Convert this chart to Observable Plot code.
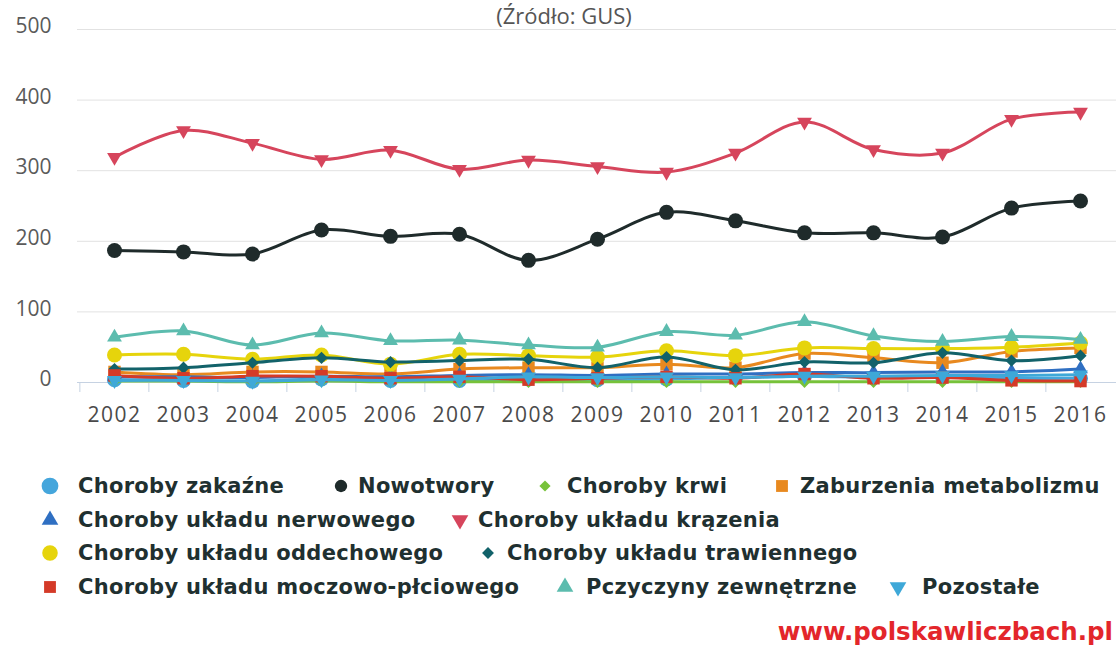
<!DOCTYPE html>
<html>
<head>
<meta charset="utf-8">
<script src="https://cdn.jsdelivr.net/npm/d3@7"></script>
<script src="https://cdn.jsdelivr.net/npm/@observablehq/plot@0.6"></script>
<style>
  body { margin: 0; background: #fff; }
  #wrap { position: relative; width: 1116px; height: 645px; overflow: hidden; background: #fff; }
  #sub { position: absolute; left: 0; top: 1px; width: 1128px; text-align: center;
         font: 22px "Open Sans", sans-serif; color: #555; line-height: 28px; }
  #chart { position: absolute; left: 0; top: 0; }
  #chart g[aria-label="x-axis tick label"] text { letter-spacing: 1.5px; }
  .lg-sym { position: absolute; width: 22px; height: 22px; }
  .lg-txt { position: absolute; font: bold 21px "DejaVu Sans", sans-serif; color: #1f3030;
            letter-spacing: 0.3px; line-height: 26px; white-space: nowrap; }
  #src { position: absolute; right: 3px; top: 617px; font: bold 24.5px "DejaVu Sans", sans-serif;
         color: #e3262b; line-height: 30px; white-space: nowrap; }
</style>
</head>
<body>
<div id="wrap">
  <div id="chart"></div>
  <div id="sub">(Źródło: GUS)</div>
  <div id="legend"></div>
  <div id="src">www.polskawliczbach.pl</div>
</div>
<script>
// ---------- data ----------
const years = [2002, 2003, 2004, 2005, 2006, 2007, 2008, 2009, 2010, 2011, 2012, 2013, 2014, 2015, 2016];
const yTicks = [0, 100, 200, 300, 400, 500];

const seriesNames = [
  "Choroby zakaźne", "Nowotwory", "Choroby krwi", "Zaburzenia metabolizmu",
  "Choroby układu nerwowego", "Choroby układu krązenia",
  "Choroby układu oddechowego", "Choroby układu trawiennego",
  "Choroby układu moczowo-płciowego", "Pczyczyny zewnętrzne", "Pozostałe"
];

const zakazne      = [4, 3, 2, 5, 3, 3, 5, 4, 5, 7, 9, 7, 8, 6, 6];
const nowotwory    = [187, 185, 182, 216, 207, 210, 173, 203, 241, 229, 212, 212, 206, 247, 257];
const krwi         = [2, 2, 1, 2, 1, 1, 1, 1, 1, 1, 1, 1, 1, 1, 1];
const metabolizm   = [15, 11, 15, 15, 12, 19, 21, 21, 26, 21, 41, 35, 28, 44, 49];
const nerwowy      = [8, 8, 7, 9, 8, 10, 11, 10, 12, 12, 14, 14, 15, 15, 19];
const krazenie     = [319, 357, 339, 316, 329, 302, 315, 306, 298, 325, 369, 330, 325, 373, 383];
const oddechowy    = [39, 40, 33, 39, 26, 40, 38, 36, 45, 38, 49, 48, 48, 50, 56];
const trawienny    = [19, 21, 28, 35, 29, 31, 33, 21, 36, 18, 29, 28, 42, 31, 38];
const moczowy      = [10, 6, 9, 9, 6, 8, 4, 6, 8, 6, 12, 6, 7, 3, 2];
const zewnetrzne   = [64, 73, 53, 70, 59, 60, 53, 50, 72, 67, 86, 66, 58, 65, 61];
const pozostale    = [3, 3, 2, 4, 3, 5, 8, 7, 8, 7, 9, 9, 10, 10, 11];

const seriesValues = [zakazne, nowotwory, krwi, metabolizm, nerwowy, krazenie,
                      oddechowy, trawienny, moczowy, zewnetrzne, pozostale];

const seriesColors = ["#45a6dc", "#1f2b2b", "#77c23a", "#e8891f", "#2f6fc2", "#d6455c",
                      "#e6d40c", "#12626a", "#d43a28", "#5cbcae", "#3ea8d8"];

// ---------- symbols ----------
const triangleDown = {
  draw(ctx, size) {
    const y = -Math.sqrt(size / (Math.sqrt(3) * 3));
    ctx.moveTo(0, -y * 2);
    ctx.lineTo(Math.sqrt(3) * y, y);
    ctx.lineTo(-Math.sqrt(3) * y, y);
    ctx.closePath();
  }
};
const seriesSymbols = [d3.symbolCircle, d3.symbolCircle, d3.symbolDiamond2, d3.symbolSquare,
                       d3.symbolTriangle, triangleDown, d3.symbolCircle, d3.symbolDiamond2,
                       d3.symbolSquare, d3.symbolTriangle, triangleDown];
const seriesR = [7.5, 7.5, 5.5, 7, 5.5, 5.5, 7.5, 5.5, 7, 5.5, 5.5];

// ---------- table ----------
const yearLabels = years.map(String);
const rows = [];
seriesNames.forEach((name, i) => {
  seriesValues[i].forEach((v, j) => rows.push({series: name, year: yearLabels[j], value: v}));
});

// ---------- chart ----------
const W = 1116, H = 440, mL = 77, mR = 0, mT = 29, mB = 58;
const half = (W - mL - mR) / years.length / 2;

const seriesMarks = seriesNames.flatMap((name, i) => {
  const d = rows.filter(r => r.series === name);
  return [
    Plot.line(d, {x: "year", y: "value", stroke: seriesColors[i], strokeWidth: 3, curve: "catmull-rom"}),
    Plot.dot(d, {x: "year", y: "value", fill: seriesColors[i], symbol: seriesSymbols[i], r: seriesR[i]})
  ];
});

const chart = Plot.plot({
  width: W, height: H,
  marginLeft: mL, marginRight: mR, marginTop: mT, marginBottom: mB,
  style: {fontFamily: '"Open Sans", sans-serif', color: "#555", background: "transparent"},
  x: {type: "point", domain: yearLabels, padding: 0.5, label: null},
  y: {domain: [0, 500], label: null},
  marks: [
    Plot.gridY(yTicks.filter(t => t > 0), {stroke: "#e2e2e2", strokeOpacity: 1, strokeWidth: 1}),
    Plot.ruleY([0], {stroke: "#c6d2e2", strokeWidth: 1}),
    Plot.ruleX(yearLabels, {x: d => d, dx: -half, y1: 0, y2: 0, insetBottom: -10, stroke: "#c6d2e2"}),
    Plot.axisY({ticks: yTicks, tickSize: 0, tickPadding: 26, fontSize: 21, dy: -3, fill: "#5a5a5a", label: null}),
    Plot.axisX({tickSize: 0, tickPadding: 25, fontSize: 21, fill: "#4a4a4a", label: null}),
    ...seriesMarks
  ]
});
document.getElementById("chart").appendChild(chart);

// ---------- legend (HTML) ----------
// [symbol centre x, text left x, row centre y] per series
const legendLayout = [
  [50, 78, 486], [341, 358, 486], [545, 567, 486], [782, 800, 486],
  [50, 78, 520], [460, 478, 520],
  [50, 78, 553], [488, 507, 553],
  [50, 78, 587], [565, 586, 587], [898, 922, 587]
];
const legendSize = [220, 120, 80, 140, 120, 120, 190, 90, 140, 120, 120];
const lg = document.getElementById("legend");
seriesNames.forEach((name, i) => {
  const [sx, tx, cy] = legendLayout[i];
  const svg = d3.create("svg").attr("class", "lg-sym")
    .attr("width", 22).attr("height", 22)
    .style("left", (sx - 11) + "px").style("top", (cy - 11) + "px");
  svg.append("path")
    .attr("transform", "translate(11,11)")
    .attr("d", d3.symbol(seriesSymbols[i], legendSize[i])())
    .attr("fill", seriesColors[i]);
  lg.appendChild(svg.node());
  const t = document.createElement("div");
  t.className = "lg-txt";
  t.textContent = name;
  t.style.left = tx + "px";
  t.style.top = (cy - 13) + "px";
  lg.appendChild(t);
});
</script>
</body>
</html>
